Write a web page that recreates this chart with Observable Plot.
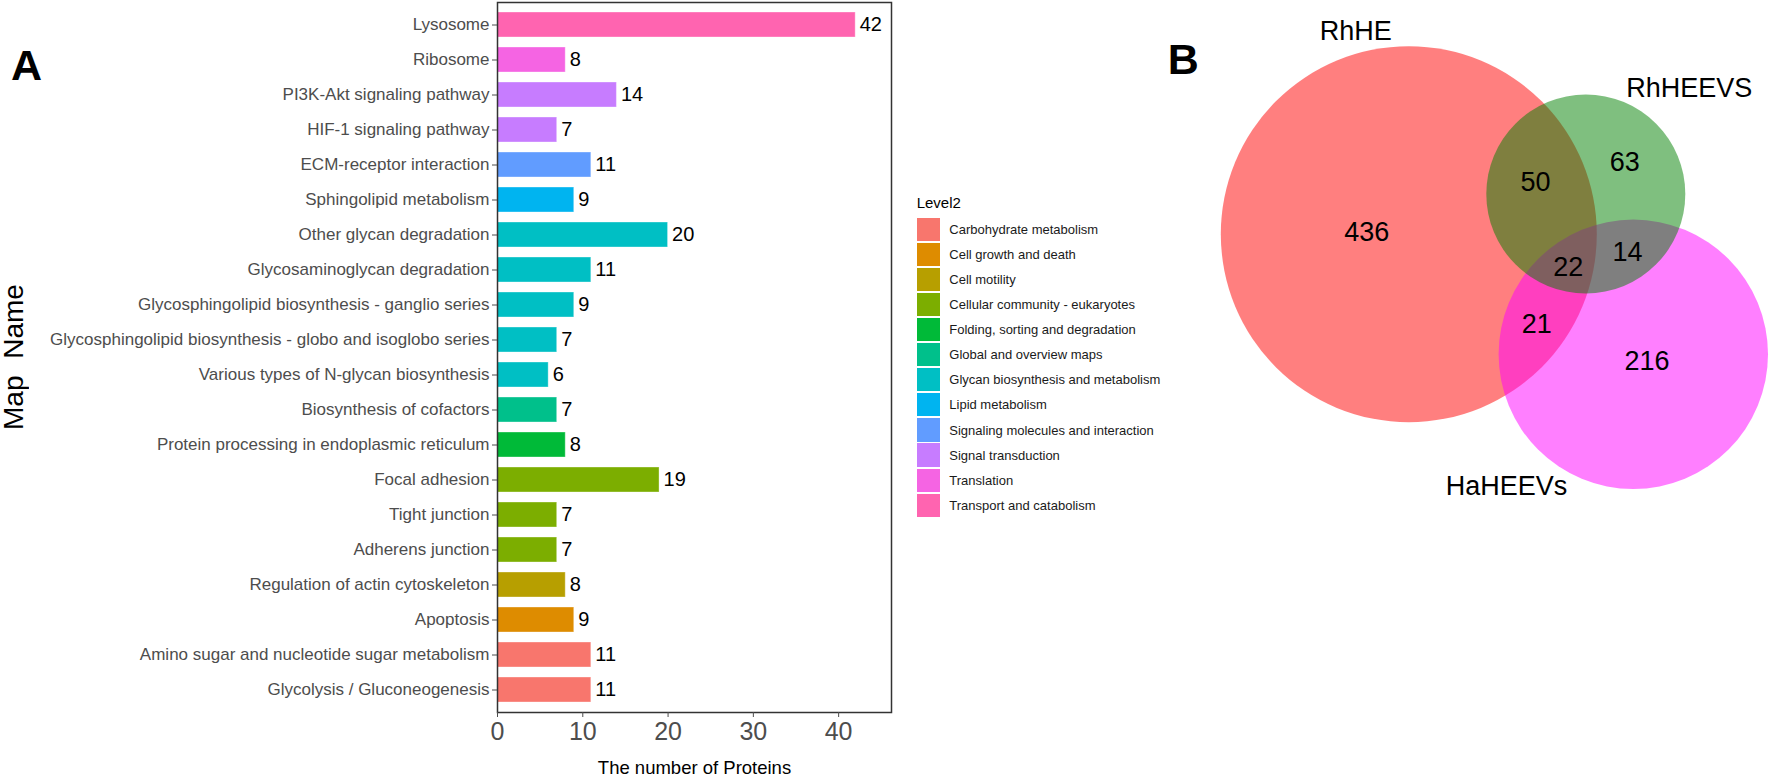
<!DOCTYPE html>
<html>
<head>
<meta charset="utf-8">
<script src="https://cdn.jsdelivr.net/npm/d3@7"></script>
<script src="https://cdn.jsdelivr.net/npm/@observablehq/plot@0.6"></script>
<style>
  html, body { margin: 0; padding: 0; background: #fff; }
  #fig { position: relative; width: 1769px; height: 776px; overflow: hidden; background: #fff;
         font-family: "Liberation Sans", Arial, Helvetica, sans-serif; }
  .abs { position: absolute; white-space: nowrap; }
  #bars, #venn { position: absolute; top: 0; }
  #bars { left: 0; width: 900px; height: 776px; }
  #venn { left: 1100px; width: 669px; height: 776px; }
  #legend { position: absolute; left: 916.7px; top: 190px; width: 240px; height: 340px; }
</style>
</head>
<body>
<div id="fig">
  <div id="bars"></div>
  <div id="venn"></div>
  <div id="legend"></div>
  <div class="abs" style="left:11px; top:43.6px; font-size:43px; line-height:43px; font-weight:bold; color:#000;">A</div>
  <div class="abs" style="left:1167.7px; top:37.6px; font-size:43px; line-height:43px; font-weight:bold; color:#000;">B</div>
  <div class="abs" style="left:0px; top:277px; width:28px; height:160px; font-size:28px; line-height:28px; text-align:center; word-spacing:9px; color:#000; writing-mode:vertical-rl; transform:rotate(180deg); transform-origin:50% 50%;">Map Name</div>
</div>
<script>
// ---------- Data: panel A ----------
const mapNames = [
  "Lysosome",
  "Ribosome",
  "PI3K-Akt signaling pathway",
  "HIF-1 signaling pathway",
  "ECM-receptor interaction",
  "Sphingolipid metabolism",
  "Other glycan degradation",
  "Glycosaminoglycan degradation",
  "Glycosphingolipid biosynthesis - ganglio series",
  "Glycosphingolipid biosynthesis - globo and isoglobo series",
  "Various types of N-glycan biosynthesis",
  "Biosynthesis of cofactors",
  "Protein processing in endoplasmic reticulum",
  "Focal adhesion",
  "Tight junction",
  "Adherens junction",
  "Regulation of actin cytoskeleton",
  "Apoptosis",
  "Amino sugar and nucleotide sugar metabolism",
  "Glycolysis / Gluconeogenesis"
];
const proteinCounts = [42, 8, 14, 7, 11, 9, 20, 11, 9, 7, 6, 7, 8, 19, 7, 7, 8, 9, 11, 11];
const mapLevels = [
  "Transport and catabolism",
  "Translation",
  "Signal transduction",
  "Signal transduction",
  "Signaling molecules and interaction",
  "Lipid metabolism",
  "Glycan biosynthesis and metabolism",
  "Glycan biosynthesis and metabolism",
  "Glycan biosynthesis and metabolism",
  "Glycan biosynthesis and metabolism",
  "Glycan biosynthesis and metabolism",
  "Global and overview maps",
  "Folding, sorting and degradation",
  "Cellular community - eukaryotes",
  "Cellular community - eukaryotes",
  "Cellular community - eukaryotes",
  "Cell motility",
  "Cell growth and death",
  "Carbohydrate metabolism",
  "Carbohydrate metabolism"
];
const level2Names = [
  "Carbohydrate metabolism",
  "Cell growth and death",
  "Cell motility",
  "Cellular community - eukaryotes",
  "Folding, sorting and degradation",
  "Global and overview maps",
  "Glycan biosynthesis and metabolism",
  "Lipid metabolism",
  "Signaling molecules and interaction",
  "Signal transduction",
  "Translation",
  "Transport and catabolism"
];
const level2Colors = ["#F8766D","#DE8C00","#B79F00","#7CAE00","#00BA38","#00C08B",
                      "#00BFC4","#00B4F0","#619CFF","#C77CFF","#F564E3","#FF64B0"];
const xTicks = [0, 10, 20, 30, 40];

// ---------- Data: panel B ----------
const vennSetNames = ["RhHE", "RhHEEVS", "HaHEEVs"];
const vennSetColors = ["#FF0000", "#008000", "#FF00FF"];
const vennRegionCounts = [436, 50, 63, 22, 14, 21, 216];

// ---------- Layout (pixels inside the Venn panel) ----------
const vennCircles = [ {cx: 308.3, cy: 233.7, r: 188}, {cx: 485.3, cy: 193.5, r: 99.5}, {cx: 532.8, cy: 353.8, r: 134.7} ];
const vennSetLabelPos = [ {x: 255.3, y: 30.7}, {x: 588.8, y: 88}, {x: 406, y: 485.5} ];
const vennCountPos = [ {x: 266.3, y: 231.4}, {x: 435, y: 181.7}, {x: 524.2, y: 162.2}, {x: 467.7, y: 267.3},
                       {x: 527, y: 251.8}, {x: 436.3, y: 324}, {x: 546.5, y: 361} ];

const font = '"Liberation Sans", Arial, Helvetica, sans-serif';

// ---------- Panel A: bar chart ----------
const rows = mapNames.map((name, i) => ({name, value: proteinCounts[i], level: mapLevels[i]}));

const bars = Plot.plot({
  width: 900,
  height: 776,
  marginLeft: 497,
  marginRight: 9,
  marginTop: 2,
  marginBottom: 64,
  style: {fontFamily: font, background: "transparent"},
  x: {domain: [0, 46.2], ticks: xTicks},
  y: {domain: mapNames, paddingInner: 0.3, paddingOuter: 0.25, align: 0.5},
  color: {domain: level2Names, range: level2Colors},
  marks: [
    Plot.barX(rows, {x: "value", y: "name", fill: "level", stroke: "white", strokeOpacity: 0.35, strokeWidth: 1}),
    Plot.text(rows, {x: "value", y: "name", text: d => String(d.value), textAnchor: "start", dx: 4,
                     lineAnchor: "middle", fontSize: 20, fill: "#000"}),
    Plot.frame({stroke: "#333", strokeWidth: 1.5}),
    Plot.axisY({tickSize: 5, tickPadding: 3, fontSize: 17, color: "#4d4d4d", label: null}),
    Plot.axisX({ticks: xTicks, tickSize: 5, tickPadding: 5, fontSize: 25, color: "#4d4d4d", label: null}),
    Plot.text(["The number of Proteins"], {frameAnchor: "bottom", dy: 55.4, lineAnchor: "middle",
                                          textAnchor: "middle", fontSize: 18.5, fill: "#000"})
  ]
});
document.getElementById("bars").appendChild(bars);

// ---------- Legend ----------
const legend = document.getElementById("legend");
const title = document.createElement("div");
title.textContent = "Level2";
title.style.cssText = "position:absolute;left:0;top:5.3px;font-size:15px;line-height:15px;color:#000;white-space:nowrap;";
legend.appendChild(title);
level2Names.forEach((name, i) => {
  const top = 27.5 + i * 25.1;
  const key = document.createElement("div");
  key.style.cssText = `position:absolute;left:0;top:${top}px;width:23.3px;height:23.3px;background:${level2Colors[i]};`;
  legend.appendChild(key);
  const lab = document.createElement("div");
  lab.textContent = name;
  lab.style.cssText = `position:absolute;left:32.6px;top:${top + 5.2}px;height:13px;line-height:13px;font-size:13px;color:#1a1a1a;white-space:nowrap;`;
  legend.appendChild(lab);
});

// ---------- Panel B: Venn diagram ----------
const circles = vennSetNames.map((name, i) => ({name, color: vennSetColors[i], ...vennCircles[i]}));
const setLabels = vennSetNames.map((name, i) => ({name, ...vennSetLabelPos[i]}));
const counts = vennRegionCounts.map((n, i) => ({n, ...vennCountPos[i]}));

const venn = Plot.plot({
  width: 669,
  height: 776,
  margin: 0,
  style: {fontFamily: font, background: "transparent"},
  x: {type: "identity"},
  y: {type: "identity"},
  r: {type: "identity"},
  marks: [
    Plot.dot(circles, {x: "cx", y: "cy", r: "r", fill: "color", fillOpacity: 0.5, stroke: null}),
    Plot.text(counts, {x: "x", y: "y", text: d => String(d.n), fontSize: 27, fill: "#000",
                       textAnchor: "middle", lineAnchor: "middle"}),
    Plot.text(setLabels, {x: "x", y: "y", text: "name", fontSize: 27, fill: "#000",
                          textAnchor: "middle", lineAnchor: "middle"})
  ]
});
document.getElementById("venn").appendChild(venn);
</script>
</body>
</html>
